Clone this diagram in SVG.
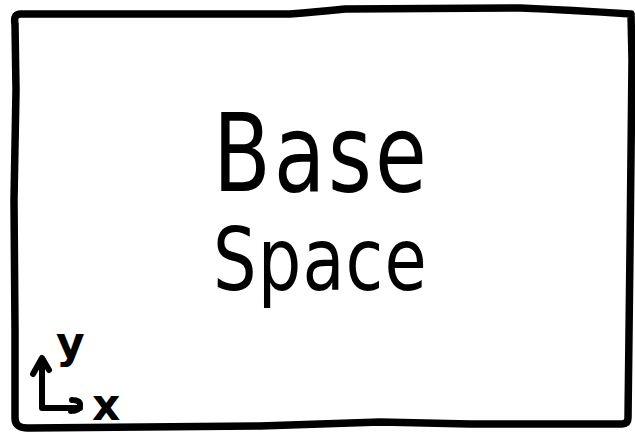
<svg xmlns="http://www.w3.org/2000/svg" width="635" height="432" viewBox="0 0 635 432">
<style>
.ink{fill:none;stroke:#000;stroke-width:7.5;stroke-linecap:round;stroke-linejoin:round}
.ax{fill:none;stroke:#000;stroke-width:6;stroke-linecap:round;stroke-linejoin:round}
.t{font-family:"DejaVu Sans",sans-serif;fill:#000}
</style>
<rect width="635" height="432" fill="#fff"/>
<g id="base-space">
<path class="ink" d="M15,24 Q13,13 22,14 L290,14 Q315,12 345,9 L520,8 Q570,10 631,14 L632,60 L630,250 L628,418 Q628,424 622,424 L470,424 L380,422 L260,426 L30,428 Q15,429 15,418 L15,330 L14,200 L16,90 Z"/>
<text class="t" transform="translate(213,191) scale(0.78,1)" font-size="108" textLength="274" lengthAdjust="spacing">Base</text>
<text class="t" transform="translate(213,290) scale(0.78,1)" font-size="88" textLength="274" lengthAdjust="spacing">Space</text>
</g>
<g id="axes">
<path class="ax" d="M42,407 L42,360 M33,374 L42,358 L49,370 M42,408 L80,408 M72,400 Q81,400 80,406 Q79,411 71,411"/>
<text class="t" x="56" y="358" font-size="44" font-weight="bold">y</text>
<text class="t" x="92" y="420" font-size="44" font-weight="bold">x</text>
</g>
</svg>
